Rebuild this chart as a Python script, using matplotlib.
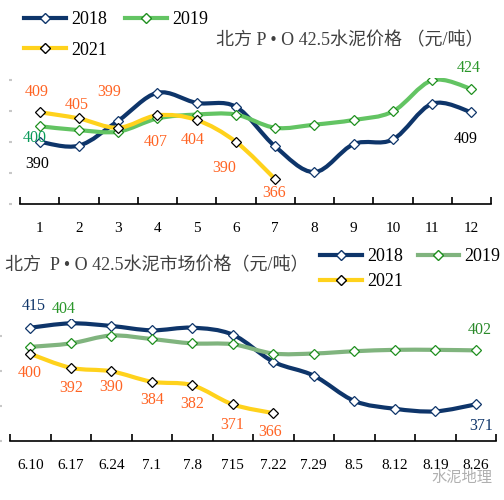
import matplotlib
matplotlib.use('Agg')
import matplotlib.pyplot as plt
from matplotlib.path import Path
from matplotlib.patches import PathPatch
from matplotlib.lines import Line2D

plt.rcParams['font.family'] = ['Liberation Serif', 'Noto Sans CJK SC']

# ---- data ----
months = [1, 2, 3, 4, 5, 6, 7, 8, 9, 10, 11, 12]
m_2018 = [390, 387.5, 403.5, 421.5, 415, 412.5, 387, 370.5, 388.5, 391.5, 414.5, 409]
m_2019 = [400, 397.5, 396.5, 405, 407.5, 407.5, 399, 401, 404, 409.5, 429.5, 424]
m_2021 = [409, 405, 399, 407, 404, 390, 366]

weeks = ['6.10', '6.17', '6.24', '7.1', '7.8', '715', '7.22', '7.29', '8.5', '8.12', '8.19', '8.26']
w_2018 = [415, 417.5, 416, 413.5, 415, 411, 395.5, 387.5, 373, 368.5, 367, 371]
w_2019 = [404, 406, 410.5, 408.5, 406, 405.5, 400.2, 400.2, 401.5, 402.3, 402.3, 402]
w_2021 = [400, 392, 390, 384, 382, 371, 366]

NAVY = '#0e356a'
GREEN_TOP = '#63c463'
GREEN_BOT = '#80b47e'
YELLOW = '#ffd21c'
ORANGE = '#ff6424'
TITLE_C = '#404040'


def smooth_line(ax, x, y, color):
    # Excel-like smoothed line as cubic bezier segments
    n = len(x)
    verts = [(x[0], y[0])]
    codes = [Path.MOVETO]
    for i in range(n - 1):
        xa, ya = (x[i - 1], y[i - 1]) if i > 0 else (x[i], y[i])
        xb, yb = (x[i + 2], y[i + 2]) if i + 2 < n else (x[i + 1], y[i + 1])
        c1 = (x[i] + (x[i + 1] - xa) / 6, y[i] + (y[i + 1] - ya) / 6)
        c2 = (x[i + 1] - (xb - x[i]) / 6, y[i + 1] - (yb - y[i]) / 6)
        verts += [c1, c2, (x[i + 1], y[i + 1])]
        codes += [Path.CURVE4] * 3
    ax.add_patch(PathPatch(Path(verts, codes), fill=False, edgecolor=color,
                           lw=3, capstyle='butt', zorder=2))


def draw_series(ax, x, y, color, medge):
    smooth_line(ax, x, y, color)
    ax.plot(x, y, ls='none', marker='D', ms=5.5, mfc='white', mec=medge,
            mew=0.9, zorder=3)


def label(ax, x, y, text, color, dx, dy):
    ax.annotate(text, (x, y), xytext=(dx, dy), textcoords='offset pixels',
                ha='center', va='center', fontsize=11.5, color=color, zorder=4)


def style_axes(ax, xlim, ylim, yticks):
    ax.set_xlim(*xlim)
    ax.set_ylim(*ylim)
    for s in ['top', 'right', 'left']:
        ax.spines[s].set_visible(False)
    ax.spines['bottom'].set_linewidth(1.2)
    ax.set_yticks(yticks)
    ax.set_yticklabels([])
    ax.spines['left'].set_position(('outward', 6))
    ax.tick_params(axis='y', length=2, width=1.5, color='#c8c8c8', direction='out')
    ax.tick_params(axis='x', which='major', length=0, pad=13, labelsize=11)
    ax.tick_params(axis='x', which='minor', length=5, width=1.2, direction='in')


fig = plt.figure(figsize=(5.04, 5.00), dpi=100)

# ---- top chart: monthly ----
ax1 = fig.add_axes([20 / 504, 1 - 204 / 500, 471 / 504, 126 / 500])
draw_series(ax1, months, m_2018, NAVY, NAVY)
draw_series(ax1, months, m_2019, GREEN_TOP, '#1f8f1f')
draw_series(ax1, months[:len(m_2021)], m_2021, YELLOW, 'black')
style_axes(ax1, (0.5, 12.5), (350, 431), [350, 370, 390, 410, 430])
ax1.set_xticks(months)
ax1.set_xticklabels([str(m) for m in months])
ax1.set_xticks([m - 0.5 for m in months] + [12.5], minor=True)

top_offsets = [(-3, 20), (-2, 13), (-9, 36), (-2, -27), (-4, -20), (-12, -26), (-1, -14)]
for i, (dx, dy) in enumerate(top_offsets):
    label(ax1, months[i], m_2021[i], str(m_2021[i]), ORANGE, dx, dy)
label(ax1, months[0], m_2019[0], '400', '#0a9a5a', -5, -12)
label(ax1, months[-1], m_2019[-1], '424', '#2a962a', -3, 21)
label(ax1, months[0], m_2018[0], '390', 'black', -2, -22)
label(ax1, months[-1], m_2018[-1], '409', 'black', -6, -27)

fig.text(484 / 504, 1 - 41 / 500, '北方 P • O 42.5水泥价格 （元/吨）',
         ha='right', va='center', fontsize=13, color=TITLE_C)

h18 = Line2D([], [], color=NAVY, lw=3, marker='D', ms=5.5, mfc='white', mec=NAVY)
h19 = Line2D([], [], color=GREEN_TOP, lw=3, marker='D', ms=5.5, mfc='white', mec='#1f8f1f')
h21 = Line2D([], [], color=YELLOW, lw=3, marker='D', ms=5.5, mfc='white', mec='black')
fig.legend([h18, h21, h19], ['2018', '2021', '2019'], ncol=2, loc='upper left',
           bbox_to_anchor=(8 / 504, 1 + 5 / 500), frameon=False, fontsize=13,
           handlelength=2.3, handletextpad=0.3, columnspacing=1.0, labelspacing=0.75)

# ---- bottom chart: weekly ----
ax2 = fig.add_axes([10 / 504, 1 - 441 / 500, 486 / 504, 122 / 500])
wx = list(range(len(weeks)))
draw_series(ax2, wx, w_2018, NAVY, NAVY)
draw_series(ax2, wx, w_2019, GREEN_BOT, '#1f8f1f')
draw_series(ax2, wx[:len(w_2021)], w_2021, YELLOW, 'black')
style_axes(ax2, (-0.5, 11.5), (350, 420), [350, 370, 390, 410])
ax2.set_xticks(wx)
ax2.set_xticklabels(weeks)
ax2.set_xticks([x - 0.5 for x in wx] + [11.5], minor=True)

bot_offsets = [(-1, -19), (0, -20), (0, -16), (0, -18), (0, -19), (-1, -21), (-3, -19)]
for i, (dx, dy) in enumerate(bot_offsets):
    label(ax2, wx[i], w_2021[i], str(w_2021[i]), ORANGE, dx, dy)
label(ax2, wx[0], w_2018[0], '415', NAVY, 3, 22)
label(ax2, wx[0], w_2019[0], '404', '#2a962a', 33, 38)
label(ax2, wx[-1], w_2019[-1], '402', '#2a8a2a', 4, 20)
label(ax2, wx[-1], w_2018[-1], '371', NAVY, 5, -22)

fig.text(5 / 504, 1 - 266 / 500, '北方  P • O 42.5水泥市场价格（元/吨）',
         ha='left', va='center', fontsize=13, color=TITLE_C)

g19 = Line2D([], [], color=GREEN_BOT, lw=3, marker='D', ms=5.5, mfc='white', mec='#1f8f1f')
fig.legend([h18, h21, g19], ['2018', '2021', '2019'], ncol=2, loc='upper left',
           bbox_to_anchor=(304 / 504, 1 - 232 / 500), frameon=False, fontsize=13,
           handlelength=2.3, handletextpad=0.3, columnspacing=0.8, labelspacing=0.45)

# watermark
fig.text(492 / 504, 1 - 478 / 500, '水泥地理', ha='right', va='center',
         fontsize=11, color='#b0b0b0')

fig.savefig('out.png', dpi=100)
